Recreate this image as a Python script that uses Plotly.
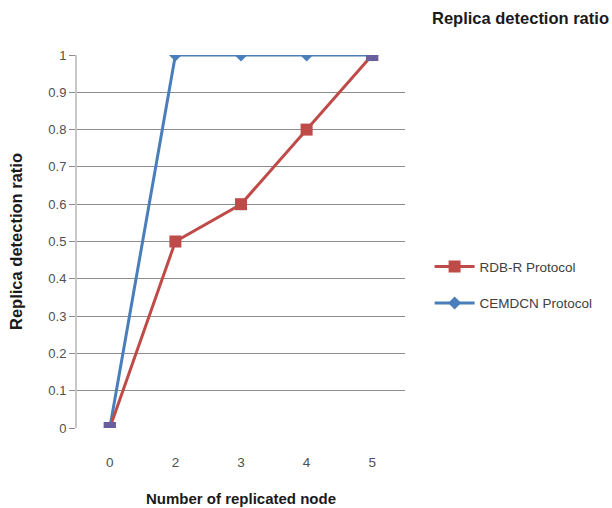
import plotly.graph_objects as go

categories = ["0", "2", "3", "4", "5"]
rdb_r = [0, 0.5, 0.6, 0.8, 1.0]
cemdcn = [0, 1.0, 1.0, 1.0, 1.0]
y_ticks = [0, 0.1, 0.2, 0.3, 0.4, 0.5, 0.6, 0.7, 0.8, 0.9, 1]

FONT = "Liberation Sans, Arial"
RED = "#be4b48"
BLUE = "#4a7ebb"
PURPLE = "#6a5f9e"

# points where both series coincide are drawn in a blended colour
overlap_x = [c for c, a, b in zip(categories, rdb_r, cemdcn) if a == b]
overlap_y = [a for a, b in zip(rdb_r, cemdcn) if a == b]

fig = go.Figure()
fig.add_trace(go.Scatter(
    x=categories, y=cemdcn, mode="lines+markers", name="CEMDCN Protocol",
    line=dict(color=BLUE, width=3),
    marker=dict(symbol="diamond", size=10, color=BLUE),
    legendrank=2, legendgroup="b",
))
fig.add_trace(go.Scatter(
    x=categories, y=rdb_r, mode="lines+markers", name="RDB-R Protocol",
    line=dict(color=RED, width=3),
    marker=dict(symbol="square", size=12, color=RED),
    legendrank=1, legendgroup="a",
))
fig.add_trace(go.Scatter(
    x=overlap_x, y=overlap_y, mode="markers", showlegend=False,
    marker=dict(symbol="square", size=12, color=PURPLE),
    hoverinfo="skip",
))

fig.update_layout(
    width=612, height=508,
    margin=dict(l=77, r=207, t=55, b=80),
    paper_bgcolor="white", plot_bgcolor="white",
    font=dict(family=FONT, size=13, color="#404040"),
    showlegend=True,
    legend=dict(x=1.075, y=0.383, xanchor="left", yanchor="middle",
                font=dict(family=FONT, size=13.5, color="#404040"),
                tracegroupgap=16, itemwidth=40, bgcolor="rgba(0,0,0,0)"),
    annotations=[dict(text="<b>Replica detection ratio</b>", xref="paper", yref="paper",
                      x=1.075, y=1.1, xanchor="left", yanchor="middle", showarrow=False,
                      font=dict(family=FONT, size=16.5, color="#1a1a1a"))],
)
fig.update_xaxes(
    type="category", range=[-0.5, 4.5], automargin=False,
    showgrid=False, showline=False, ticks="",
    ticklabelstandoff=24,
    tickfont=dict(family=FONT, size=13.5, color="#505050"),
    title=dict(text="<b>Number of replicated node</b>", standoff=24,
               font=dict(family=FONT, size=15, color="#1a1a1a")),
)
fig.update_yaxes(
    range=[0, 1], tickvals=y_ticks, ticktext=[f"{v:g}" for v in y_ticks],
    automargin=False,
    showgrid=True, gridcolor="#8c8c8c", gridwidth=1,
    showline=True, linecolor="#c8c8c8", linewidth=2,
    ticks="outside", ticklen=6, tickcolor="#8c8c8c",
    tickfont=dict(family=FONT, size=13, color="#505050"),
    zeroline=False,
    title=dict(text="<b>Replica detection ratio</b>", standoff=22,
               font=dict(family=FONT, size=16.5, color="#1a1a1a")),
)

fig.write_html("out.html")
